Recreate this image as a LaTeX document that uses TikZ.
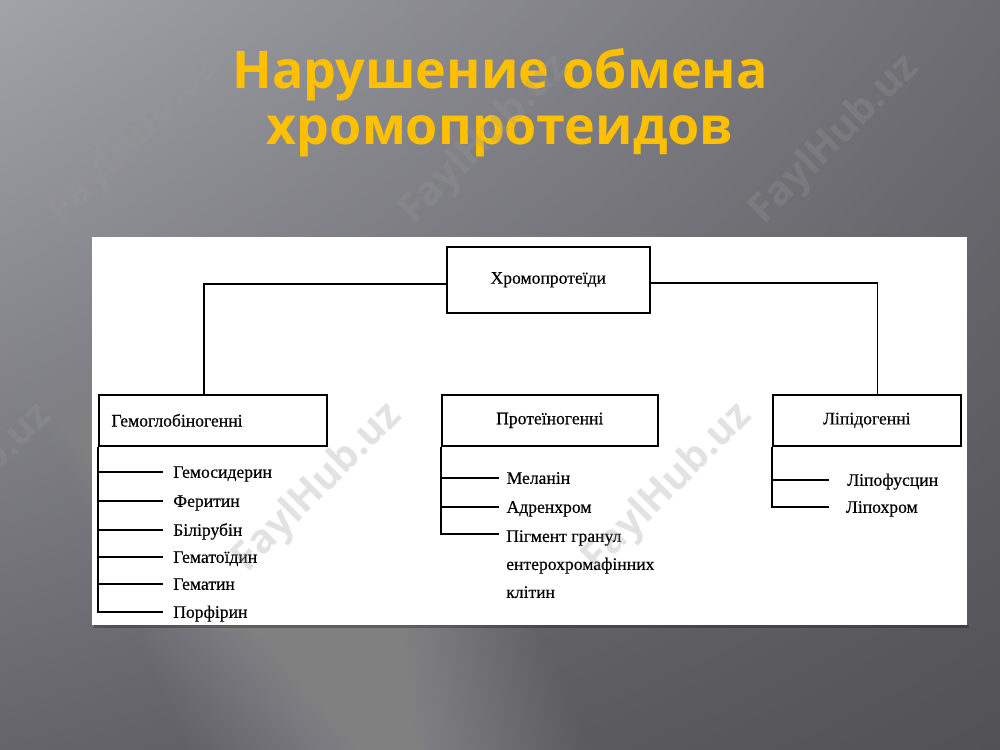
\documentclass[tikz,border=0pt]{standalone}
\usepackage{fontspec}
\setmainfont{Liberation Serif}
\newfontfamily\diagfont{Liberation Serif}[FakeBold=0.4]
\newfontfamily\titlefont{Open Sans}
\usetikzlibrary{calc,shadings}
\definecolor{bgUL}{HTML}{A2A3A8}
\definecolor{bgUR}{HTML}{6C6C72}
\definecolor{bgLL}{HTML}{64646A}
\definecolor{bgLR}{HTML}{525256}
\definecolor{titlegold}{HTML}{FFC000}
\definecolor{wmark}{HTML}{9A9A9A}
\begin{document}
\begin{tikzpicture}[x=0.75pt,y=-0.75pt,
  titletext/.style={font=\titlefont\bfseries\fontsize{39}{40}\selectfont, text=titlegold, inner sep=0pt, anchor=base},
  catbox/.style={draw=black, line width=1.2pt, fill=white, anchor=north west, inner sep=0pt,
    font=\diagfont\fontsize{13.2}{15}\selectfont, align=center},
  itemtext/.style={font=\diagfont\fontsize{13.2}{15}\selectfont, anchor=west, inner ysep=0pt,
    text height=11.7pt, text depth=3pt},
  link/.style={draw=black, line width=1.1pt},
  wm/.style={font=\titlefont\bfseries\fontsize{30}{30}\selectfont, text=wmark, opacity=0.28, rotate=45}
]
% background
\useasboundingbox (0,0) rectangle (1000,750);
\shade[upper left=bgUL, upper right=bgUR, lower left=bgLL, lower right=bgLR] (0,0) rectangle (1000,750);
\foreach \w in {5,10,...,200}{
  \fill[white, opacity=0.0065] ({60-\w},0) -- ({60+\w},0) -- ({390+\w},750) -- ({390-\w},750) -- cycle;
}
% title
\node[titletext] (t1) at (500,88) {Нарушение обмена};
\node[titletext] (t2) at (500,144) {хромопротеидов};
% white panel
\fill[black, opacity=0.25] (94,625) rectangle (969,628);
\fill[white] (92,237) rectangle (967,625);
% category boxes
\node[catbox, minimum width=152.25pt, minimum height=49.5pt] (top) at (446,246) {Хромопротеїди};
\node[catbox, minimum height=38.25pt, inner xsep=9.5pt, text width=152pt, align=left] (hem) at (98,394) {Гемоглобіногенні};
\node[catbox, minimum width=162pt, minimum height=38.25pt] (prot) at (441,394) {Протеїногенні};
\node[catbox, minimum width=141pt, minimum height=38.25pt] (lip) at (772,394) {Ліпідогенні};
% connectors from top box
\draw[link] ($(top.west)+(0,4)$) -| ($(hem.north west)+(106,0)$);
\draw[link] ($(top.east)+(0,3)$) -| ($(lip.north west)+(105.6,0)$);
\draw[link] ($(top.south)+(-4.5,0)$) -- ($(top.south)+(-4.5,0)$ |- prot.north);
% left list
\node[itemtext, inner xsep=7.5pt] (h1) at (163,472) {Гемосидерин};
\node[itemtext, inner xsep=7.5pt] (h2) at (163,501) {Феритин};
\node[itemtext, inner xsep=7.5pt] (h3) at (163,530) {Білірубін};
\node[itemtext, inner xsep=7.5pt] (h4) at (163,557) {Гематоїдин};
\node[itemtext, inner xsep=7.5pt] (h5) at (163,584) {Гематин};
\node[itemtext, inner xsep=7.5pt] (h6) at (163,612) {Порфірин};
\draw[link] (hem.south west) -- (hem.south west |- h6.west) -- (h6.west);
\foreach \n in {h1,h2,h3,h4,h5}{
  \draw[link] (hem.south west |- \n.west) -- (\n.west);
}
% middle list
\node[itemtext, inner xsep=5.5pt] (m1) at (499,478) {Меланін};
\node[itemtext, inner xsep=5.5pt] (m2) at (499,507) {Адренхром};
\coordinate (m3c) at (499,534);
\node[font=\diagfont\fontsize{13.2}{21}\selectfont, anchor=north west, inner sep=0pt, align=left] (m3) at (506,530)
  {Пігмент гранул\\ентерохромафінних\\клітин};
\draw[link] (prot.south west) -- (prot.south west |- m3c) -- (m3c);
\draw[link] (prot.south west |- m1.west) -- (m1.west);
\draw[link] (prot.south west |- m2.west) -- (m2.west);
% right list
\node[itemtext, inner xsep=13.5pt] (l1) at (829,480) {Ліпофусцин};
\node[itemtext, inner xsep=12.5pt] (l2) at (829,507) {Ліпохром};
\draw[link] (lip.south west) -- (lip.south west |- l2.west) -- (l2.west);
\draw[link] (lip.south west |- l1.west) -- (l1.west);
% watermarks
\node[wm] (w1) at (134,140) {FaylHub.uz};
\node[wm] (w2) at (485,140) {FaylHub.uz};
\node[wm] (w3) at (835,140) {FaylHub.uz};
\node[wm] (w4) at (-32,488) {FaylHub.uz};
\node[wm] (w5) at (318,488) {FaylHub.uz};
\node[wm] (w6) at (668,488) {FaylHub.uz};
\end{tikzpicture}
\end{document}
